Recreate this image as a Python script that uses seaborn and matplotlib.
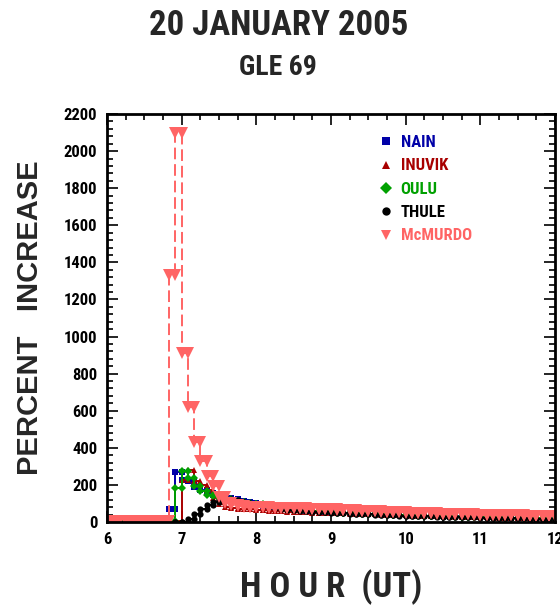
import numpy as np
import pandas as pd
import matplotlib
matplotlib.use("Agg")
import matplotlib.pyplot as plt
from matplotlib.lines import Line2D
from matplotlib.ticker import MultipleLocator
from matplotlib import font_manager
import seaborn as sns

# ---------------- data (5-minute averages, 06:00-12:00 UT) ----------------
start_hour = 6.0
step_min = 5
stations = ["NAIN", "INUVIK", "OULU", "THULE", "McMURDO"]

nain = [3, 2, 4, 3, 2, 3, 4, 3, 2, 4,
        70, 270, 225, 220, 190, 170, 158, 148, 138, 130, 122, 114, 107, 101,
        96, 88, 82, 78, 74, 70, 67, 64, 62, 60, 58, 56,
        54, 52, 51, 49, 48, 46, 45, 44, 42, 41, 40, 39,
        38, 37, 36, 35, 34, 33, 32, 31, 30, 30, 29, 28,
        27, 27, 26, 25, 25, 24, 23, 23, 22, 22, 21, 20]
inuvik = [2, 3, 2, 3, 2, 3, 2, 2, 3, 2,
          2, 3, 225, 278, 220, 200, 172, 130, 95, 82, 76, 72, 70, 68,
          66, 64, 62, 60, 58, 56, 55, 54, 52, 51, 50, 49,
          48, 47, 46, 45, 44, 43, 42, 41, 40, 39, 38, 37,
          36, 35, 34, 33, 32, 31, 30, 30, 29, 28, 27, 27,
          26, 25, 25, 24, 23, 23, 22, 21, 21, 20, 20, 19]
oulu = [3, 4, 3, 2, 3, 4, 3, 3, 4, 3,
        3, 185, 274, 237, 195, 165, 145, 140, 130, 122, 115, 108, 103, 99,
        96, 90, 84, 79, 75, 71, 67, 64, 61, 59, 57, 55,
        53, 51, 50, 48, 47, 45, 44, 43, 41, 40, 39, 38,
        37, 36, 35, 34, 33, 32, 31, 30, 29, 29, 28, 27,
        26, 26, 25, 24, 24, 23, 22, 22, 21, 21, 20, 19]
thule = [1, 2, 1, 2, 1, 1, 2, 1, 2, 1,
         1, 2, 2, 18, 45, 70, 92, 108, 118, 122, 118, 110, 103, 97,
         92, 86, 80, 75, 71, 67, 63, 60, 58, 56, 54, 52,
         50, 48, 47, 45, 44, 42, 41, 40, 38, 37, 36, 35,
         34, 33, 32, 31, 30, 29, 28, 28, 27, 26, 25, 25,
         24, 23, 23, 22, 21, 21, 20, 20, 19, 18, 18, 17]
mcmurdo = [6, 5, 7, 6, 5, 6, 5, 7, 6, 8,
           1330, 2100, 910, 620, 430, 330, 250, 195, 136, 105, 90, 86, 83, 82,
           80, 79, 78, 77, 76, 75, 74, 73, 72, 71, 70, 69,
           68, 66, 65, 63, 62, 60, 59, 57, 56, 54, 53, 52,
           50, 49, 48, 47, 46, 45, 44, 43, 42, 42, 41, 40,
           40, 39, 38, 38, 37, 36, 36, 35, 34, 34, 33, 32]

x_ticks = [6, 7, 8, 9, 10, 11, 12]
y_ticks = list(range(0, 2201, 200))

series = {"NAIN": nain, "INUVIK": inuvik, "OULU": oulu,
          "THULE": thule, "McMURDO": mcmurdo}

# build histogram-style table: each 5-min value spans its interval
rows = []
for name, vals in series.items():
    for k, v in enumerate(vals):
        t0 = start_hour + k * step_min / 60.0
        t1 = start_hour + (k + 1) * step_min / 60.0
        rows.append((name, 2 * k, t0, v))
        rows.append((name, 2 * k + 1, t1, v))
df = pd.DataFrame(rows, columns=["station", "order", "hour", "pct"])

styles = {
    "NAIN":    dict(color="#0000a8", marker="s", ms=4.5, ls="-"),
    "INUVIK":  dict(color="#a80000", marker="^", ms=5, ls="-"),
    "OULU":    dict(color="#00a000", marker="D", ms=4.5, ls="-"),
    "THULE":   dict(color="#000000", marker="o", ms=4.5, ls="-"),
    "McMURDO": dict(color="#ff6464", marker="v", ms=8, ls=(0, (6, 2.5))),
}

# pick a narrow face if one is installed
names = {f.name for f in font_manager.fontManager.ttflist}
narrow_family = None
narrow_stretch = "normal"
for cand in ["Liberation Sans Narrow", "Roboto Condensed", "Open Sans Condensed",
             "DejaVu Sans Condensed"]:
    if cand in names:
        narrow_family = cand
        break
if narrow_family is None:
    for f in font_manager.fontManager.ttflist:
        if f.name == "DejaVu Sans" and str(f.stretch) in ("condensed", "semi-condensed"):
            narrow_family = "DejaVu Sans"
            narrow_stretch = "condensed"
            break
have_narrow = narrow_family is not None
if not have_narrow:
    narrow_family = "Liberation Sans"

sns.set_style("white")
plt.rcParams["font.family"] = [narrow_family, "Liberation Sans", "DejaVu Sans"]
plt.rcParams["font.stretch"] = narrow_stretch

fig = plt.figure(figsize=(5.6, 6.08), dpi=100)
ax = fig.add_axes([0.191, 0.1414, 0.800, 0.6711])

for name in stations:
    st = styles[name]
    d = df[df.station == name].sort_values("order")
    sns.lineplot(data=d, x="hour", y="pct", ax=ax, sort=False, estimator=None,
                 color=st["color"], marker=st["marker"], markersize=st["ms"],
                 markeredgewidth=0, linestyle=st["ls"], linewidth=1.4,
                 legend=False)

ax.set_xlim(6, 12)
ax.set_ylim(0, 2200)
ax.set_xticks(x_ticks)
ax.set_yticks(y_ticks)
ax.xaxis.set_minor_locator(MultipleLocator(0.25))
ax.yaxis.set_minor_locator(MultipleLocator(40))
ax.tick_params(which="both", direction="in", top=True, right=True,
               bottom=True, left=True, width=1.2, colors="black")
ax.tick_params(which="major", length=8)
ax.tick_params(which="minor", length=4)
ax.tick_params(axis="both", labelsize=12 if have_narrow else 11, pad=7)
for lab in ax.get_xticklabels() + ax.get_yticklabels():
    lab.set_fontweight("bold")
for sp in ax.spines.values():
    sp.set_linewidth(2)
    sp.set_color("black")

ax.set_xlabel("H O U R  (UT)", fontsize=25 if have_narrow else 21,
              fontweight="bold", labelpad=16)
ax.set_ylabel("PERCENT   INCREASE", fontsize=21, fontweight="bold", labelpad=14,
              family=["Liberation Sans", "DejaVu Sans"], stretch="normal")

fig.text(0.497, 0.958, "20 JANUARY 2005", ha="center", va="center",
         fontsize=25 if have_narrow else 21, fontweight="bold")
fig.text(0.497, 0.889, "GLE 69", ha="center", va="center",
         fontsize=20 if have_narrow else 17, fontweight="bold")

handles = [Line2D([], [], color=styles[n]["color"], marker=styles[n]["marker"],
                  markersize=6 if n != "McMURDO" else 7, linestyle="none",
                  markeredgewidth=0)
           for n in stations]
leg = ax.legend(handles, stations, loc="upper left", bbox_to_anchor=(0.57, 0.985),
                frameon=False, labelcolor=[styles[n]["color"] for n in stations],
                prop={"size": 12 if have_narrow else 11, "weight": "bold"},
                handlelength=1.0, handletextpad=0.4, labelspacing=0.5)

fig.savefig("out.png", dpi=100)
